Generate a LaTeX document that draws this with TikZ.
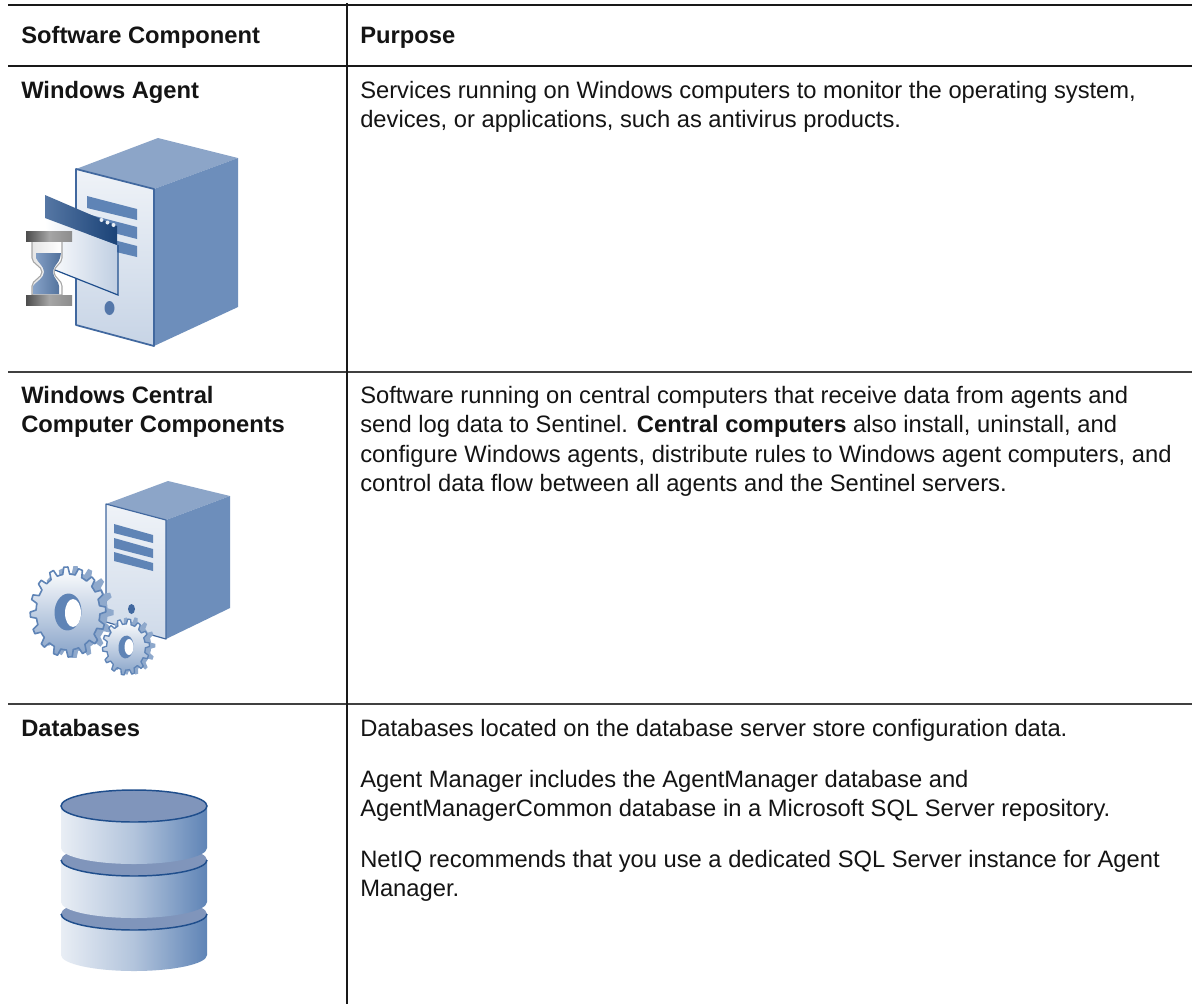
\documentclass[tikz,border=0pt]{standalone}
\usepackage{fontspec}
\setmainfont{Liberation Sans}
\definecolor{edgeblue}{HTML}{41689F}
\definecolor{barblue}{HTML}{5F84B6}
\definecolor{topblue}{HTML}{8CA5C8}
\definecolor{sideblue}{HTML}{6D8EBB}
\definecolor{dbdark}{HTML}{1F4E8C}
\definecolor{dbtop}{HTML}{8095BB}
\tikzset{
  x=0.75pt,y=-0.75pt,
  rule/.style={line width=1.5pt,black!90},
  thinrule/.style={line width=1pt,black!75},
  cell/.style={anchor=base west,inner sep=0pt,font=\fontsize{17.8}{21}\selectfont,text=black!92},
  headcell/.style={cell,font=\fontsize{17.8}{21}\selectfont\bfseries},
  dbside/.style={left color=barblue!14!white,right color=barblue,middle color=barblue!48!white},
  bar/.style={fill=barblue},
}
\newcommand{\lowerarc}[1]{(-73,#1) .. controls (-73,#1+8.8) and (-40,#1+16) .. (0,#1+16) .. controls (40,#1+16) and (73,#1+8.8) .. (73,#1)}
\newcommand{\gearpath}[4]{(#4:#1) \foreach \i in {0,...,#3} { -- ({#4+\i*360/(#3+1)+80/(#3+1)}:#1) -- ({#4+\i*360/(#3+1)+130/(#3+1)}:#2) -- ({#4+\i*360/(#3+1)+230/(#3+1)}:#2) -- ({#4+\i*360/(#3+1)+280/(#3+1)}:#1) -- ({#4+\i*360/(#3+1)+360/(#3+1)}:#1)} -- cycle}
\begin{document}
\begin{tikzpicture}
\useasboundingbox (0,0) rectangle (1192,1004);
\fill[white] (0,0) rectangle (1192,1004);

% table rules
\coordinate (tl) at (8,5); \coordinate (tr) at (1192,5);
\coordinate (hl) at (8,66); \coordinate (hr) at (1192,66);
\coordinate (al) at (8,372); \coordinate (ar) at (1192,372);
\coordinate (bl) at (8,704); \coordinate (br) at (1192,704);
\coordinate (vt) at (347,3); \coordinate (vb) at (347,1004);
\draw[rule] (tl) -- (tr);
\draw[rule] (hl) -- (hr);
\draw[thinrule] (al) -- (ar);
\draw[thinrule] (bl) -- (br);
\draw[rule] (vt) -- (vb);

% text
\node[headcell] (h1) at (21,43) {Software Component};
\node[headcell] (h2) at (360,43) {Purpose};
\node[headcell] (a1) at (21,98.5) {Windows Agent};
\node[cell] (a2) at (360,98.5) {Services running on Windows computers to monitor the operating system,};
\node[cell] (a3) at (360,127.5) {devices, or applications, such as antivirus products.};
\node[headcell] (b1) at (21,403.5) {Windows Central};
\node[headcell] (b1b) at (21,432.5) {Computer Components};
\node[cell] (b2) at (360,403.5) {Software running on central computers that receive data from agents and};
\node[cell] (b3) at (360,432.5) {send log data to Sentinel. \textbf{Central computers} also install, uninstall, and};
\node[cell] (b4) at (360,462) {configure Windows agents, distribute rules to Windows agent computers, and};
\node[cell] (b5) at (360,491) {control data flow between all agents and the Sentinel servers.};
\node[headcell] (c1) at (21,736) {Databases};
\node[cell] (c2) at (360,736) {Databases located on the database server store configuration data.};
\node[cell] (c3) at (360,787) {Agent Manager includes the AgentManager database and};
\node[cell] (c4) at (360,816) {AgentManagerCommon database in a Microsoft SQL Server repository.};
\node[cell] (c5) at (360,867) {NetIQ recommends that you use a dedicated SQL Server instance for Agent};
\node[cell] (c6) at (360,896) {Manager.};

% Windows agent icon
\fill[topblue] (76,169) -- (158,138) -- (238,158) -- (154,189) -- cycle;
\fill[sideblue] (154,189) -- (238,158) -- (238,307) -- (154,346) -- cycle;
\shade[top color=white!90!barblue,bottom color=barblue!35!white,draw=edgeblue,line width=1.3pt,line join=round]
  (76,169) -- (154,189) -- (154,346) -- (76,325) -- cycle;
\fill[bar] (87,196) -- (137,209) -- (137,220) -- (87,208) -- cycle;
\fill[bar] (87,214) -- (137,227) -- (137,239) -- (87,226) -- cycle;
\fill[bar] (87,233) -- (137,246) -- (137,257) -- (87,245) -- cycle;
\fill[edgeblue!90] (109.5,308) ellipse [x radius=5,y radius=7];
% window
\shade[left color=white,right color=barblue!40!white] (45,218) -- (117,245) -- (118,295) -- (55,270) -- cycle;
\draw[dbdark,line width=.9pt] (118,245) -- (118,295) -- (55,270);
\shade[left color=barblue!90!black,right color=dbdark!85!black] (45,195) -- (117,226) -- (117,245) -- (45,218) -- cycle;
\fill[white!85!barblue] (101.5,220) circle [radius=2];
\fill[white!85!barblue] (107.5,222.5) circle [radius=2];
\fill[white!85!barblue] (113.5,225) circle [radius=2];
% hourglass
\path[draw=black!35,line width=.8pt,left color=black!10,right color=white]
  (32,241) -- (62,241) -- (62,258) .. controls (62,264) and (54,266) .. (54,272) .. controls (54,278) and (62,280) .. (62,286) -- (62,295) -- (32,295) -- (32,286) .. controls (32,280) and (42,278) .. (42,272) .. controls (42,266) and (32,264) .. (32,258) -- cycle;
\shade[left color=barblue!75!white,right color=barblue!85!black]
  (36,253) -- (61,253) -- (60,258) .. controls (59,263) and (53,266) .. (53,272) .. controls (53,278) and (59,281) .. (59,286) -- (59,294) -- (33,294) -- (33,286) .. controls (37,281) and (44,278) .. (44,272) .. controls (44,266) and (38,263) .. (36,258) -- cycle;
\shade[left color=black!70,right color=black!45,middle color=black!35] (26,231) rectangle (72,241);
\shade[left color=black!70,right color=black!45,middle color=black!35] (26,295) rectangle (72,305);

% Central computer icon
\fill[topblue] (106,504) -- (168,481) -- (230,496) -- (166,520) -- cycle;
\fill[sideblue] (166,520) -- (230,496) -- (230,608) -- (166,639) -- cycle;
\shade[top color=white!90!barblue,bottom color=barblue!30!white,draw=edgeblue,line width=.9pt,line join=round]
  (106,504) -- (166,520) -- (166,639) -- (106,622) -- cycle;
\fill[bar] (114,524) -- (153,535) -- (153,543) -- (114,533) -- cycle;
\fill[bar] (114,538) -- (153,549) -- (153,558) -- (114,548) -- cycle;
\fill[bar] (114,552) -- (153,563) -- (153,571) -- (114,561) -- cycle;
\fill[edgeblue] (131.5,609) ellipse [x radius=3.5,y radius=5];
% big gear
\begin{scope}[shift={(75,612)},xscale=.84,rotate=-8]
  \fill[barblue!70!white] \gearpath{39}{46}{15}{4};
\end{scope}
\begin{scope}[shift={(68,612)},xscale=.84,rotate=-8]
  \shade[top color=white,bottom color=barblue!75!white,draw=barblue,line width=1.2pt,line join=round] \gearpath{38}{45}{15}{0};
  \fill[barblue] (0,0) ellipse [x radius=16,y radius=18.5];
\end{scope}
\fill[white] (73,613) ellipse [x radius=8,y radius=14];
% small gear
\begin{scope}[shift={(131,646)},xscale=.84,rotate=-8]
  \fill[barblue!70!white] \gearpath{24}{29}{13}{4};
\end{scope}
\begin{scope}[shift={(126,647)},xscale=.84,rotate=-8]
  \shade[top color=white,bottom color=barblue!75!white,draw=barblue,line width=1pt,line join=round] \gearpath{23}{28}{13}{0};
  \fill[barblue] (0,0) ellipse [x radius=9,y radius=11.5];
\end{scope}
\fill[white] (129,647) ellipse [x radius=4.5,y radius=8];

% Database icon
\begin{scope}[shift={(134,0)}]
  % lowest disc
  \shade[dbside] (-73,914) -- \lowerarc{955} -- (73,914) -- cycle;
  \fill[dbtop] \lowerarc{914} .. controls (73,905) and (40,898) .. (0,898) .. controls (-40,898) and (-73,905) .. (-73,914) -- cycle;
  \draw[dbdark,line width=1.1pt] \lowerarc{914};
  % middle disc
  \shade[dbside] (-73,860) -- \lowerarc{902} -- (73,860) -- cycle;
  \fill[dbtop] \lowerarc{860} .. controls (73,851) and (40,844) .. (0,844) .. controls (-40,844) and (-73,851) .. (-73,860) -- cycle;
  \draw[dbdark,line width=1.1pt] \lowerarc{860};
  % top disc
  \shade[dbside] (-73,806) -- \lowerarc{848} -- (73,806) -- cycle;
  \draw[dbdark,line width=1.1pt,fill=dbtop] (0,806) ellipse [x radius=73,y radius=16];
\end{scope}
\end{tikzpicture}
\end{document}
